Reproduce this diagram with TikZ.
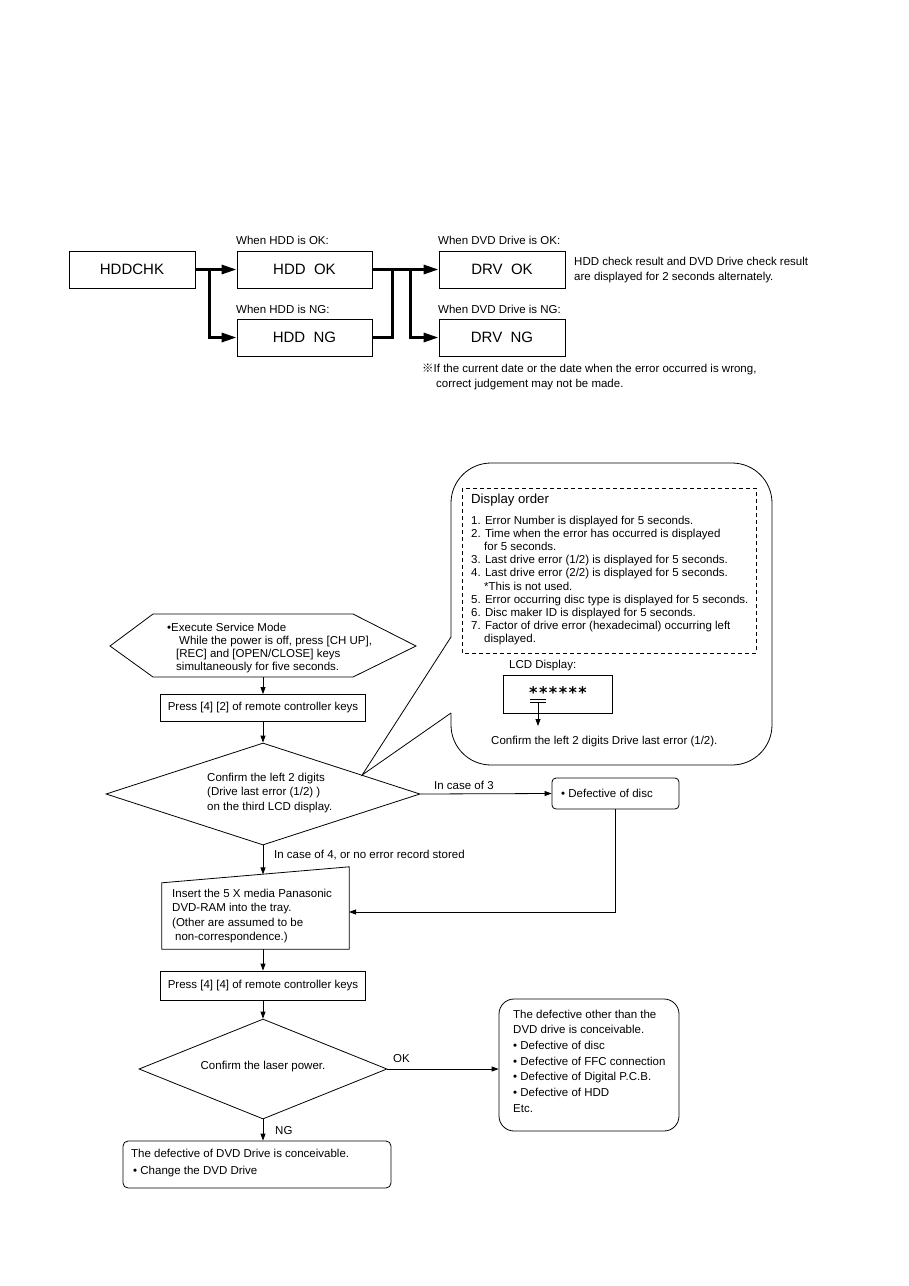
\documentclass[tikz,border=0pt]{standalone}
\usepackage{fontspec}
\setmainfont{Liberation Sans}
\newfontfamily\cjkfont{Noto Sans CJK JP}
\newfontfamily\djfont{DejaVu Sans}
\usetikzlibrary{arrows.meta,calc,shapes.geometric}
\newcommand\fsz[2]{\fontsize{#1}{#2}\selectfont}
\begin{document}
\begin{tikzpicture}[x=1pt,y=-1pt,
  every node/.style={inner sep=0pt, font=\fsz{11.5}{13.2}},
  txt/.style={anchor=west, text height=8.5pt, text depth=2.3pt},
  mtxt/.style={anchor=north west, align=left},
  tbox/.style={draw, line width=0.8pt, minimum height=37pt},
  big/.style={font=\fsz{15}{18}},
  thk/.style={line width=3pt},
  thkarr/.style={line width=3pt, -{Triangle[length=15pt,width=9pt]}},
  fbox/.style={draw, line width=0.8pt},
  fline/.style={line width=0.8pt},
  farr/.style={line width=0.8pt, -{Triangle[length=7pt,width=5pt]}}
]
\fill[white] (0,0) rectangle (909,1286);
\useasboundingbox (0,0) rectangle (909,1286);

% ---------------- top section ----------------
\node[tbox, minimum width=126pt, big] (hddchk) at (132,269.5) {HDDCHK};
\node[tbox, minimum width=135pt, big] (hddok) at (304.5,269.5) {HDD\ \ OK};
\node[tbox, minimum width=135pt, big] (hddng) at (304.5,337.5) {HDD\ \ NG};
\node[tbox, minimum width=126pt, big] (drvok) at (502,269.5) {DRV\ \ OK};
\node[tbox, minimum width=126pt, big] (drvng) at (502,337.5) {DRV\ \ NG};

\coordinate (b1) at (209,269.5);
\coordinate (b2) at (392,269.5);
\coordinate (b3) at (410,269.5);
\draw[thkarr] (hddchk.east) -- (hddok.west);
\draw[thkarr] (b1) |- (hddng.west);
\draw[thkarr] (hddok.east) -- (drvok.west);
\draw[thk] (hddng.east) -| (b2);
\draw[thkarr] (b3) |- (drvng.west);

\node[txt] (lbl1) at (236,241) {When HDD is OK:};
\node[txt] (lbl2) at (236,310) {When HDD is NG:};
\node[txt] (lbl3) at (438,241) {When DVD Drive is OK:};
\node[txt] (lbl4) at (438,310) {When DVD Drive is NG:};
\node[mtxt, font=\fsz{11.5}{15}] (note1) at (574,257) {HDD check result and DVD Drive check result\\are displayed for 2 seconds alternately.};
\node[mtxt, font=\fsz{11.5}{15}] (note2) at (422,364) {{\cjkfont ※}If the current date or the date when the error occurred is wrong,\\\hspace*{14pt}correct judgement may not be made.};

% ---------------- flowchart ----------------
\draw[fline] (110,646) -- (153,614) -- (353,614) -- (416,646) -- (353,677) -- (153,677) -- cycle;
\coordinate (hexB) at (263,677);
\node[mtxt, font=\fsz{11.5}{13}] (hext) at (167,622.5) {•Execute Service Mode\\\hspace*{12pt}While the power is off, press [CH UP],\\\hspace*{9pt}[REC] and [OPEN/CLOSE] keys\\\hspace*{9pt}simultaneously for five seconds.};

\node[fbox, minimum width=205pt, minimum height=27pt] (p42) at (263,708) {Press [4] [2] of remote controller keys};
\draw[farr] (hexB) -- (p42.north);

\node[draw, line width=0.8pt, diamond, minimum width=314pt, minimum height=102pt] (d1) at (263,794) {};
\node[mtxt, font=\fsz{11.5}{14.5}] (d1t) at (207,772.5) {Confirm the left 2 digits\\(Drive last error (1/2) )\\on the third LCD display.};
\draw[farr] (p42.south) -- (d1.north);

\node[fbox, rounded corners=4pt, minimum width=127pt, minimum height=31pt] (disc) at (615.5,793.5) {};
\node[txt] (disct) at (561,794) {• Defective of disc};
\draw[farr] (d1.east) -- (disc.west);
\node[txt] (c3) at (434,786) {In case of 3};

\node[minimum width=187pt, minimum height=82pt] (ins) at (255.5,908) {};
\draw[fline] (ins.south west) -- ([yshift=-16pt]ins.north west) -- (ins.north east) -- (ins.south east) -- cycle;
\coordinate (insT) at (263,874.4);
\coordinate (insR) at (349,912);
\node[mtxt, font=\fsz{11.5}{14.3}] (inst) at (172,889) {Insert the 5 X media Panasonic\\DVD-RAM into the tray.\\(Other are assumed to be\\\hspace*{3pt}non-correspondence.)};
\draw[farr] (d1.south) -- (insT);
\node[txt] (c4) at (274,855) {In case of 4, or no error record stored};
\draw[farr] (disc.south) |- (insR);

\node[fbox, minimum width=205pt, minimum height=29pt] (p44) at (263,985.5) {Press [4] [4] of remote controller keys};
\draw[farr] (p44.north |- ins.south) -- (p44.north);

\node[draw, line width=0.8pt, diamond, minimum width=248pt, minimum height=100pt] (d2) at (263,1069) {};
\node (d2t) at (263,1067) {Confirm the laser power.};
\draw[farr] (p44.south) -- (d2.north);

\node[fbox, rounded corners=15pt, minimum width=180pt, minimum height=132pt] (rb) at (589,1065) {};
\node[mtxt, font=\fsz{11.5}{15.7}] (rbt) at (513,1009.5) {The defective other than the\\DVD drive is conceivable.\\• Defective of disc\\• Defective of FFC connection\\• Defective of Digital P.C.B.\\• Defective of HDD\\Etc.};
\draw[farr] (d2.east) -- (d2.east -| rb.west);
\node[txt] (ok) at (393,1059) {OK};

\node[fbox, rounded corners=5pt, minimum width=268pt, minimum height=47pt] (bb) at (257,1164.5) {};
\node[mtxt, font=\fsz{11.5}{17}] (bbt) at (131,1148.5) {The defective of DVD Drive is conceivable.\\\hspace*{2pt}• Change the DVD Drive};
\draw[farr] (d2.south) -- (d2.south |- bb.north);
\node[txt] (ng) at (275,1131) {NG};

% ---------------- callout ----------------
\coordinate (tip) at ($(d1.north)!0.63!(d1.east)$);
\draw[fline, rounded corners=40pt] (451,637) -- (451,463) -- (772,463) -- (772,765) -- (451,765) -- (451,713);
\draw[fline] (451,637) -- (tip) -- (451,713);
\draw[fline, dash pattern=on 4pt off 3pt] (462,488) rectangle (756,653);
\node[txt, font=\fsz{13.2}{15}] (dord) at (471,500) {Display order};
\node[mtxt, font=\fsz{11.5}{13.2}] (dlist) at (471,515.5) {1. Error Number is displayed for 5 seconds.\\2. Time when the error has occurred is displayed\\\hspace*{13pt}for 5 seconds.\\3. Last drive error (1/2) is displayed for 5 seconds.\\4. Last drive error (2/2) is displayed for 5 seconds.\\\hspace*{13pt}*This is not used.\\5. Error occurring disc type is displayed for 5 seconds.\\6. Disc maker ID is displayed for 5 seconds.\\7. Factor of drive error (hexadecimal) occurring left\\\hspace*{13pt}displayed.};
\node[txt] (lcdl) at (509,665) {LCD Display:};
\node[fbox, minimum width=109pt, minimum height=38pt] (lcd) at (557.5,694) {};
\node[font=\djfont\bfseries\fsz{16}{16}] (ast) at (558,693) {*\hspace{1.5pt}*\hspace{1.5pt}*\hspace{1.5pt}*\hspace{1.5pt}*\hspace{1.5pt}*};
\draw[fline] (530,699) -- (546,699);
\draw[fline] (530,702) -- (546,702);
\coordinate (ulc) at (538,702);
\coordinate (arrEnd) at (538,726);
\draw[farr] (ulc) -- (arrEnd);
\node[txt] (conf) at (491,741) {Confirm the left 2 digits Drive last error (1/2).};
\end{tikzpicture}
\end{document}
